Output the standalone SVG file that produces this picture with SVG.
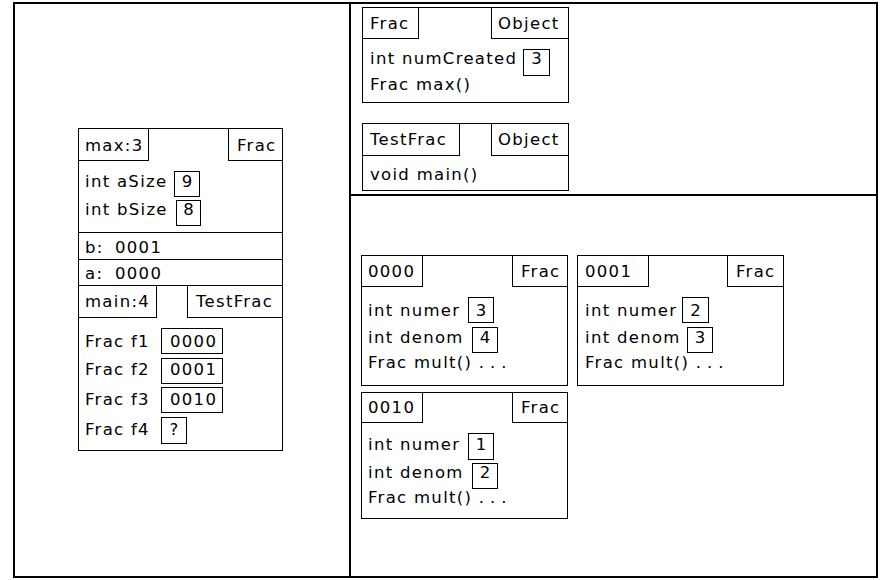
<svg xmlns="http://www.w3.org/2000/svg" width="882" height="580" viewBox="0 0 882 580">
<style>
.b{fill:none;stroke:#000;stroke-width:1}
.fr{fill:none;stroke:#000;stroke-width:2}
text{font-family:"DejaVu Sans",sans-serif;font-size:16.5px;letter-spacing:1.3px;fill:#000}
.m{text-anchor:middle;letter-spacing:0}
.d{letter-spacing:6px}
</style>
<rect width="882" height="580" fill="#fff"/>
<g id="layout">
<rect class="fr" x="14" y="3" width="863" height="574"/>
<line class="fr" x1="350" y1="3" x2="350" y2="577"/>
<line class="fr" x1="350" y1="195" x2="877" y2="195"/>
</g>
<g id="frame-max">
<rect class="b" x="78.5" y="128.5" width="204" height="157"/>
<rect class="b" x="78.5" y="128.5" width="70" height="32"/>
<rect class="b" x="228.5" y="128.5" width="54" height="32"/>
<text x="85" y="151">max:3</text>
<text x="237" y="151">Frac</text>
<text x="85" y="187">int aSize</text>
<rect class="b" x="174.5" y="171.5" width="25" height="25"/>
<text class="m" x="187" y="187">9</text>
<text x="85" y="215">int bSize</text>
<rect class="b" x="176.5" y="200.5" width="24" height="25"/>
<text class="m" x="188.5" y="215">8</text>
<line class="b" x1="78.5" y1="232.5" x2="282.5" y2="232.5"/>
<text x="85" y="253">b:<tspan x="115">0001</tspan></text>
<line class="b" x1="78.5" y1="259.5" x2="282.5" y2="259.5"/>
<text x="85" y="279">a:<tspan x="115">0000</tspan></text>
</g>
<g id="frame-main">
<rect class="b" x="78.5" y="285.5" width="204" height="165"/>
<rect class="b" x="78.5" y="285.5" width="78" height="32"/>
<rect class="b" x="187.5" y="285.5" width="95" height="32"/>
<text x="85" y="307">main:4</text>
<text x="196" y="307">TestFrac</text>
<text x="85" y="347">Frac f1</text>
<rect class="b" x="161.5" y="328.5" width="61" height="25"/>
<text x="170" y="347">0000</text>
<text x="85" y="375">Frac f2</text>
<rect class="b" x="161.5" y="358.5" width="61" height="25"/>
<text x="170" y="375">0001</text>
<text x="85" y="405">Frac f3</text>
<rect class="b" x="161.5" y="387.5" width="61" height="25"/>
<text x="170" y="405">0010</text>
<text x="85" y="435">Frac f4</text>
<rect class="b" x="161.5" y="417.5" width="25" height="26"/>
<text class="m" x="174" y="435">?</text>
</g>
<g id="class-Frac">
<rect class="b" x="362.5" y="7.5" width="206" height="95"/>
<rect class="b" x="362.5" y="7.5" width="56" height="31"/>
<rect class="b" x="491.5" y="7.5" width="77" height="31"/>
<text x="370" y="29">Frac</text>
<text x="498" y="29">Object</text>
<text x="370" y="64">int numCreated</text>
<rect class="b" x="523.5" y="49.5" width="26" height="26"/>
<text class="m" x="536.5" y="64">3</text>
<text x="370" y="90">Frac max()</text>
</g>
<g id="class-TestFrac">
<rect class="b" x="362.5" y="123.5" width="206" height="67"/>
<rect class="b" x="362.5" y="123.5" width="97" height="32"/>
<rect class="b" x="491.5" y="123.5" width="77" height="32"/>
<text x="370" y="145">TestFrac</text>
<text x="498" y="145">Object</text>
<text x="370" y="180">void main()</text>
</g>
<g id="obj-0000">
<rect class="b" x="361.5" y="255.5" width="206" height="130"/>
<rect class="b" x="361.5" y="255.5" width="61" height="31"/>
<rect class="b" x="512.5" y="255.5" width="55" height="31"/>
<text x="368" y="277">0000</text>
<text x="521" y="277">Frac</text>
<text x="368" y="316">int numer</text>
<rect class="b" x="468.5" y="297.5" width="25" height="25"/>
<text class="m" x="481" y="316">3</text>
<text x="368" y="343">int denom</text>
<rect class="b" x="472.5" y="327.5" width="25" height="25"/>
<text class="m" x="485" y="343">4</text>
<text x="368" y="368">Frac mult() <tspan class="d">...</tspan></text>
</g>
<g id="obj-0001">
<rect class="b" x="577.5" y="255.5" width="206" height="130"/>
<rect class="b" x="577.5" y="255.5" width="71" height="31"/>
<rect class="b" x="727.5" y="255.5" width="56" height="31"/>
<text x="585" y="277">0001</text>
<text x="736" y="277">Frac</text>
<text x="585" y="316">int numer</text>
<rect class="b" x="682.5" y="297.5" width="26" height="25"/>
<text class="m" x="695.5" y="316">2</text>
<text x="585" y="343">int denom</text>
<rect class="b" x="687.5" y="327.5" width="25" height="25"/>
<text class="m" x="700" y="343">3</text>
<text x="585" y="368">Frac mult() <tspan class="d">...</tspan></text>
</g>
<g id="obj-0010">
<rect class="b" x="361.5" y="392.5" width="206" height="126"/>
<rect class="b" x="361.5" y="392.5" width="61" height="30"/>
<rect class="b" x="512.5" y="392.5" width="55" height="30"/>
<text x="368" y="413">0010</text>
<text x="521" y="413">Frac</text>
<text x="368" y="450">int numer</text>
<rect class="b" x="468.5" y="433.5" width="25" height="26"/>
<text class="m" x="481" y="450">1</text>
<text x="368" y="478">int denom</text>
<rect class="b" x="472.5" y="463.5" width="25" height="25"/>
<text class="m" x="485" y="478">2</text>
<text x="368" y="503">Frac mult() <tspan class="d">...</tspan></text>
</g>
</svg>
